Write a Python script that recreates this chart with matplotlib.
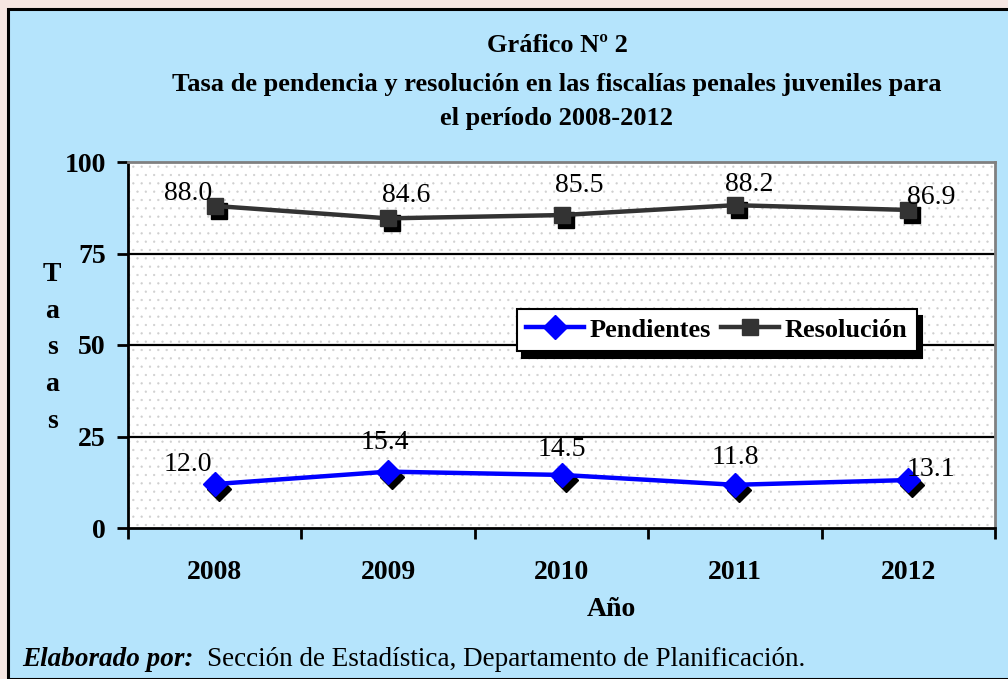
import matplotlib.pyplot as plt
import matplotlib.transforms as mtransforms
from matplotlib.patches import Rectangle
import numpy as np

plt.rcParams['font.family'] = ['Liberation Serif', 'DejaVu Serif']
plt.rcParams['hatch.color'] = '#cfcfcf'
plt.rcParams['hatch.linewidth'] = 0.4

# data
years = ['2008', '2009', '2010', '2011', '2012']
pendientes = [12.0, 15.4, 14.5, 11.8, 13.1]
resolucion = [88.0, 84.6, 85.5, 88.2, 86.9]

# label offsets in pixels (dx, dy)
off_pend = [(-27, 20), (-3, 29), (0, 25), (0, 27), (23, 11)]
off_res = [(-27, 12), (18, 23), (18, 30), (14, 21), (23, 12)]

fig = plt.figure(figsize=(10.08, 6.79), dpi=100)
fig.patch.set_facecolor('#f6e6e2')
# blue frame
fig.patches.append(Rectangle((8/1008, 0.0), 1.0, 1 - 9/679, transform=fig.transFigure,
                             facecolor='#b5e4fc', edgecolor='black', linewidth=2.2, zorder=-10))

ax = fig.add_axes([128/1008, 151/679, 867/1008, 366/679])
ax.set_facecolor('white')
ax.patch.set_hatch('..')
ax.patch.set_edgecolor('#cfcfcf')

x = np.arange(len(years))

# shadows
sh = mtransforms.offset_copy(ax.transData, fig=fig, x=4, y=-5, units='dots')
ax.plot(x, pendientes, ls='none', marker='D', ms=12, color='black', transform=sh, zorder=3)
ax.plot(x, resolucion, ls='none', marker='s', ms=12, color='black', transform=sh, zorder=3)

ax.plot(x, pendientes, color='#0000ff', lw=3.2, marker='D', ms=12, label='Pendientes', zorder=4)
ax.plot(x, resolucion, color='#333333', lw=3.2, marker='s', ms=12, label='Resolución', zorder=4)

for i in range(len(x)):
    ax.annotate('%.1f' % pendientes[i], (x[i], pendientes[i]), xytext=off_pend[i],
                textcoords='offset pixels', ha='center', va='center', fontsize=20, zorder=5)
    ax.annotate('%.1f' % resolucion[i], (x[i], resolucion[i]), xytext=off_res[i],
                textcoords='offset pixels', ha='center', va='center', fontsize=20, zorder=5)

ax.set_xlim(-0.5, 4.5)
ax.set_ylim(0, 100)
ax.set_yticks([0, 25, 50, 75, 100])
ax.set_yticklabels(['0', '25', '50', '75', '100'], fontsize=20, fontweight='bold')
ax.set_xticks(x)
ax.set_xticklabels(years, fontsize=20, fontweight='bold')
ax.set_xticks(np.arange(-0.5, 5, 1), minor=True)
ax.tick_params(axis='x', which='major', length=0, pad=23)
ax.tick_params(axis='x', which='minor', length=8, width=2, direction='out')
ax.tick_params(axis='y', length=8, width=2, direction='out', pad=8)
for yv in [25, 50, 75]:
    ax.axhline(yv, color='black', lw=1.6, zorder=1)
ax.spines['left'].set_linewidth(2)
ax.spines['bottom'].set_linewidth(2)
ax.spines['top'].set_color('#808080')
ax.spines['right'].set_color('#808080')
ax.spines['top'].set_linewidth(2)
ax.spines['right'].set_linewidth(2)

leg = ax.legend(loc='center', bbox_to_anchor=(0.679, 0.541), ncol=2, frameon=True,
                prop={'weight': 'bold', 'size': 19}, fancybox=False, edgecolor='black',
                shadow={'color': 'black', 'alpha': 1, 'ox': 4, 'oy': -5},
                handlelength=2.2, handletextpad=0.2, columnspacing=0.4, borderpad=0.35,
                borderaxespad=0)
leg.get_frame().set_linewidth(1.5)
leg.get_frame().set_alpha(1)

fig.text(557/1008, 1 - 46/679, 'Gráfico Nº 2', ha='center', va='center', fontsize=19, fontweight='bold')
fig.text(557/1008, 1 - 85/679, 'Tasa de pendencia y resolución en las fiscalías penales juveniles para',
         ha='center', va='center', fontsize=19, fontweight='bold')
fig.text(557/1008, 1 - 118/679, 'el período 2008-2012', ha='center', va='center', fontsize=19, fontweight='bold')

fig.text(52/1008, 1 - 348/679, 'T\na\ns\na\ns', ha='center', va='center', fontsize=20,
         fontweight='bold', linespacing=1.62)
fig.text(611/1008, 1 - 610/679, 'Año', ha='center', va='center', fontsize=20, fontweight='bold')

fig.text(22/1008, 1 - 660/679, 'Elaborado por:', ha='left', va='center', fontsize=19.5,
         fontweight='bold', fontstyle='italic')
fig.text(207/1008, 1 - 660/679, 'Sección de Estadística, Departamento de Planificación.',
         ha='left', va='center', fontsize=19.5)

plt.savefig('out.png', dpi=100, facecolor=fig.get_facecolor())
